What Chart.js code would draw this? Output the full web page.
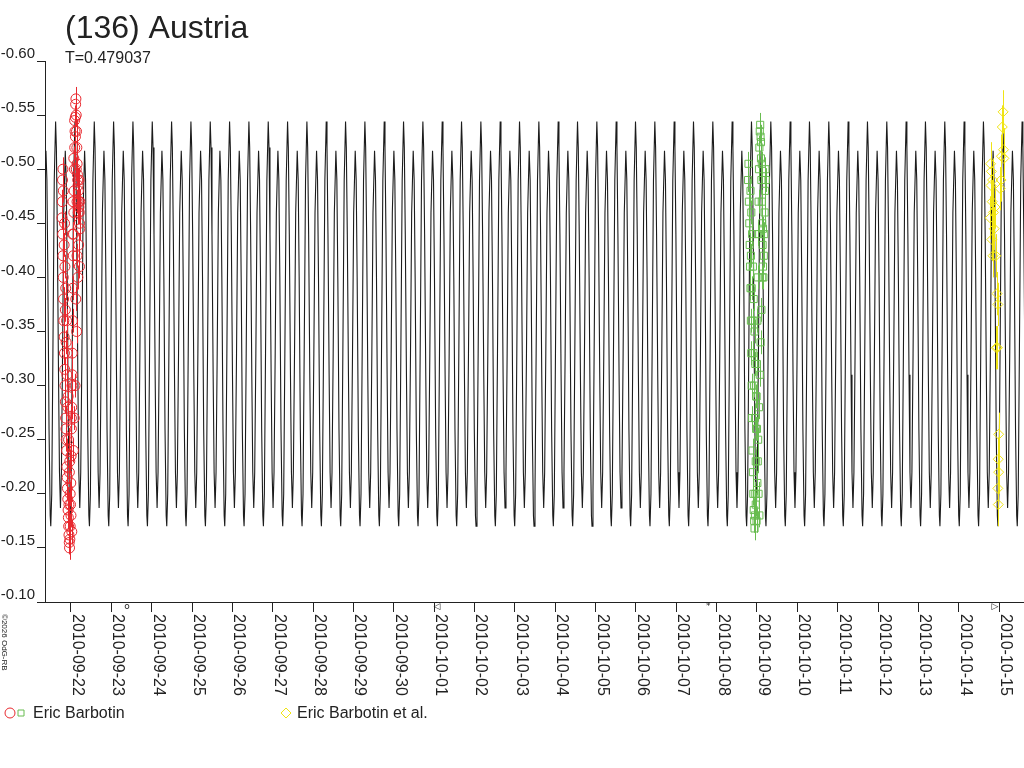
<!DOCTYPE html>
<html>
<head>
<meta charset="utf-8">
<script src="https://cdn.jsdelivr.net/npm/chart.js@4.4.1/dist/chart.umd.min.js"></script>
<style>
html, body { margin: 0; padding: 0; background: #fff; }
#wrap { width: 1024px; height: 768px; position: relative; }
</style>
</head>
<body>
<div id="wrap"><canvas id="lc"></canvas></div>
<script>
// x axis is in days since 2010-09-22 00:00
const titleText = '(136) Austria';
const periodText = 'T=0.479037';
const period = 0.479037;
const epoch = 0.577;          // primary maximum of the fitted curve
const xMin = -0.644, xMax = 23.618;

const dateLabels = ['2010-09-22','2010-09-23','2010-09-24','2010-09-25','2010-09-26','2010-09-27',
  '2010-09-28','2010-09-29','2010-09-30','2010-10-01','2010-10-02','2010-10-03','2010-10-04',
  '2010-10-05','2010-10-06','2010-10-07','2010-10-08','2010-10-09','2010-10-10','2010-10-11',
  '2010-10-12','2010-10-13','2010-10-14','2010-10-15'];

// one period of the fitted light curve (phase, mag)
const shapePhase = [0, 0.04, 0.09, 0.15, 0.20, 0.25, 0.30, 0.36, 0.42, 0.50, 0.55, 0.60, 0.66, 0.72, 0.75, 0.80, 0.86, 0.93];
const shapeMag = [-0.544, -0.52, -0.44, -0.31, -0.22, -0.187, -0.22, -0.33, -0.46, -0.517, -0.49, -0.40, -0.26, -0.18, -0.170, -0.20, -0.33, -0.49];

// Eric Barbotin, 2010-09-22
const redT = [-0.222,-0.215,-0.208,-0.200,-0.192,-0.185,-0.178,-0.170,-0.162,-0.155,
  -0.148,-0.140,-0.132,-0.125,-0.118,-0.110,-0.102,-0.095,-0.088,-0.080,
  -0.072,-0.065,-0.058,-0.050,-0.043,-0.036,-0.028,-0.020,-0.012,-0.005,
  0.003,0.010,0.018,0.025,0.032,0.040,0.047,0.055,0.062,0.070,
  0.077,0.085,0.092,0.100,0.107,0.115,0.122,0.130,0.137,0.145,
  0.152,0.160,0.167,0.175,0.182,0.190,0.197,0.205,0.212,0.220,
  0.150,0.170,0.190,0.210,-0.200,-0.210,-0.190,0.120,0.140,0.100,
  0.080,0.060,-0.140,-0.120,-0.100,-0.080,-0.060,-0.040,-0.020,0.000,
  0.020,-0.050,0.040,0.050,0.070,0.090,0.110,0.130,0.150,0.180,
  0.200,0.220,-0.170,-0.160,-0.150,-0.130,-0.110,-0.090,-0.070,-0.030,
  0.010,0.030];
const redMag = [-0.455,-0.47,-0.44,-0.42,-0.40,-0.38,-0.36,-0.345,-0.33,-0.315,
  -0.30,-0.285,-0.27,-0.26,-0.25,-0.24,-0.225,-0.215,-0.205,-0.195,
  -0.185,-0.178,-0.17,-0.162,-0.155,-0.150,-0.158,-0.17,-0.19,-0.21,
  -0.235,-0.26,-0.28,-0.30,-0.33,-0.36,-0.39,-0.42,-0.44,-0.46,
  -0.48,-0.50,-0.52,-0.535,-0.548,-0.56,-0.565,-0.55,-0.535,-0.52,
  -0.505,-0.495,-0.49,-0.485,-0.48,-0.47,-0.465,-0.46,-0.45,-0.445,
  -0.42,-0.40,-0.43,-0.41,-0.50,-0.49,-0.48,-0.38,-0.35,-0.30,
  -0.27,-0.24,-0.37,-0.34,-0.31,-0.28,-0.25,-0.22,-0.20,-0.18,
  -0.165,-0.19,-0.44,-0.47,-0.51,-0.545,-0.53,-0.50,-0.47,-0.46,
  -0.49,-0.47,-0.43,-0.45,-0.41,-0.39,-0.36,-0.33,-0.29,-0.23,
  -0.27,-0.31];
const redErr = 0.011;

// Eric Barbotin, 2010-10-09
const greenT = [16.78,16.79,16.80,16.81,16.82,16.83,16.84,16.85,16.86,16.87,
  16.88,16.89,16.90,16.91,16.92,16.93,16.94,16.95,16.96,16.97,
  16.98,16.99,17.00,17.01,17.02,17.03,17.04,17.05,17.06,17.07,
  17.08,17.09,17.10,17.11,17.12,17.13,17.14,17.15,17.16,17.17,
  17.18,17.19,17.20,17.21,17.22,
  16.84,16.86,16.88,16.90,16.92,16.94,16.96,16.98,17.00,17.02,
  17.04,17.06,16.97,17.01,17.03,17.05,17.07,17.09,17.11,17.13,
  17.15,16.99,16.95,16.93,16.91,16.89,16.87,16.85,17.10,17.12];
const greenMag = [-0.49,-0.505,-0.47,-0.45,-0.43,-0.41,-0.39,-0.36,-0.33,-0.30,
  -0.27,-0.24,-0.22,-0.20,-0.185,-0.175,-0.168,-0.18,-0.20,-0.23,
  -0.26,-0.29,-0.32,-0.36,-0.40,-0.44,-0.47,-0.50,-0.52,-0.535,
  -0.541,-0.53,-0.51,-0.49,-0.47,-0.45,-0.43,-0.41,-0.40,-0.42,
  -0.44,-0.46,-0.48,-0.50,-0.49,
  -0.48,-0.46,-0.44,-0.41,-0.38,-0.35,-0.32,-0.29,-0.26,-0.23,
  -0.20,-0.18,-0.19,-0.21,-0.25,-0.28,-0.31,-0.34,-0.37,-0.40,
  -0.445,-0.175,-0.27,-0.30,-0.33,-0.36,-0.39,-0.42,-0.525,-0.505];
const greenErr = 0.011;

// Eric Barbotin et al., 2010-10-15
const yellowT = [23.10,23.08,23.11,23.12,23.06,22.79,22.81,22.84,22.80,23.05,
  23.03,22.83,22.86,22.78,22.88,22.90,22.82,22.85,22.92,22.95,
  22.97,22.93,22.96,22.99,22.98,22.99,22.97,22.98];
const yellowMag = [-0.553,-0.539,-0.518,-0.510,-0.512,-0.505,-0.498,-0.49,-0.485,-0.49,
  -0.482,-0.47,-0.46,-0.455,-0.445,-0.465,-0.435,-0.42,-0.42,-0.385,
  -0.375,-0.335,-0.335,-0.255,-0.232,-0.22,-0.205,-0.19];
const yellowErr = 0.02;

// moon phase marks under the axis
const moonT = [1.39, 9.07, 15.79, 22.9];
const moonSym = ['o', '◁', '*', '▷'];

const legendItems = [
  { label: 'Eric Barbotin', x: 33, marks: [['circle', 10, 'rgb(232,40,46)'], ['square', 21, 'rgb(104,188,80)']] },
  { label: 'Eric Barbotin et al.', x: 297, marks: [['diamond', 286, 'rgb(240,228,20)']] }
];

const FONT = "'Liberation Sans', Arial, sans-serif";
const INK = '#222';

// repeat the fitted period over the plotted span
const curve = [];
for (let k = -3; k < 52; k++) {
  shapePhase.forEach((p, i) => {
    const x = epoch + (k + p) * period;
    if (x > xMin - 0.5 && x < xMax + 0.5) curve.push({ x: x, y: shapeMag[i] });
  });
}

const pts = (t, m) => t.map((v, i) => ({ x: v, y: m[i] }));

// error bars go on top of the fitted curve, under the markers
const errorBars = {
  id: 'errorBars',
  afterDatasetDraw(chart, args) {
    if (args.index !== 3) return;
    const ctx = chart.ctx, ys = chart.scales.y, area = chart.chartArea;
    ctx.save();
    ctx.beginPath();
    ctx.rect(area.left, area.top, area.right - area.left, area.bottom - area.top);
    ctx.clip();
    chart.data.datasets.forEach((ds, i) => {
      if (!ds.err) return;
      const meta = chart.getDatasetMeta(i);
      ctx.strokeStyle = ds.borderColor;
      ctx.lineWidth = 1;
      meta.data.forEach((el, j) => {
        const v = ds.data[j].y;
        const x = Math.round(el.x) + 0.5;
        ctx.beginPath();
        ctx.moveTo(x, ys.getPixelForValue(v - ds.err));
        ctx.lineTo(x, ys.getPixelForValue(v + ds.err));
        ctx.stroke();
      });
    });
    ctx.restore();
  }
};

const decorations = {
  id: 'decorations',
  afterDraw(chart) {
    const ctx = chart.ctx, xs = chart.scales.x, area = chart.chartArea;
    ctx.save();
    ctx.fillStyle = INK;
    ctx.textAlign = 'left';
    ctx.textBaseline = 'alphabetic';

    // x axis line runs a little past the y axis, like the tick marks
    ctx.strokeStyle = INK;
    ctx.lineWidth = 1;
    ctx.beginPath();
    ctx.moveTo(area.left - 8, Math.round(area.bottom) + 0.5);
    ctx.lineTo(area.left, Math.round(area.bottom) + 0.5);
    ctx.stroke();

    ctx.font = '32px ' + FONT;
    ctx.fillText(titleText, 65, 38);
    ctx.font = '16px ' + FONT;
    ctx.fillText(periodText, 65, 63);

    // rotated date labels, reading downwards
    ctx.font = '16px ' + FONT;
    dateLabels.forEach((lab, i) => {
      const x = xs.getPixelForValue(i);
      ctx.save();
      ctx.translate(x + 2, 614);
      ctx.rotate(Math.PI / 2);
      ctx.fillText(lab, 0, 0);
      ctx.restore();
    });

    // moon phase marks
    ctx.font = '9px "DejaVu Sans", sans-serif';
    ctx.textAlign = 'center';
    ctx.textBaseline = 'middle';
    moonT.forEach((t, i) => {
      ctx.fillText(moonSym[i], xs.getPixelForValue(t), 607);
    });

    // copyright
    ctx.textAlign = 'left';
    ctx.textBaseline = 'alphabetic';
    ctx.font = '8px ' + FONT;
    ctx.save();
    ctx.translate(2, 614);
    ctx.rotate(Math.PI / 2);
    ctx.fillText('©2026 OdG-RB', 0, 0);
    ctx.restore();

    // legend
    legendItems.forEach(item => {
      item.marks.forEach(m => {
        const [kind, cx, col] = m;
        const cy = 713;
        ctx.strokeStyle = col;
        ctx.lineWidth = 1;
        ctx.beginPath();
        if (kind === 'circle') ctx.arc(cx, cy, 5, 0, Math.PI * 2);
        else if (kind === 'square') ctx.rect(cx - 3, cy - 3, 6, 6);
        else { ctx.moveTo(cx, cy - 5); ctx.lineTo(cx + 5, cy); ctx.lineTo(cx, cy + 5); ctx.lineTo(cx - 5, cy); ctx.closePath(); }
        ctx.stroke();
      });
      ctx.fillStyle = INK;
      ctx.font = '16px ' + FONT;
      ctx.fillText(item.label, item.x, 718);
    });
    ctx.restore();
  }
};

new Chart(document.getElementById('lc'), {
  type: 'scatter',
  data: {
    datasets: [
      {
        label: 'Eric Barbotin',
        data: pts(redT, redMag),
        err: redErr,
        borderColor: 'rgb(232,40,46)',
        backgroundColor: 'rgba(0,0,0,0)',
        pointStyle: 'circle',
        pointRadius: 5,
        borderWidth: 1
      },
      {
        label: 'Eric Barbotin',
        data: pts(greenT, greenMag),
        err: greenErr,
        borderColor: 'rgb(104,188,80)',
        backgroundColor: 'rgba(0,0,0,0)',
        pointStyle: 'rect',
        pointRadius: 5,
        borderWidth: 1
      },
      {
        label: 'Eric Barbotin et al.',
        data: pts(yellowT, yellowMag),
        err: yellowErr,
        borderColor: 'rgb(240,228,20)',
        backgroundColor: 'rgba(0,0,0,0)',
        pointStyle: 'rectRot',
        pointRadius: 5,
        borderWidth: 1
      },
      {
        label: 'fit',
        data: curve,
        showLine: true,
        borderColor: '#1c1c1c',
        borderWidth: 1.1,
        pointRadius: 0,
        tension: 0
      }
    ]
  },
  options: {
    responsive: true,
    maintainAspectRatio: false,
    animation: false,
    layout: { autoPadding: false, padding: { top: 61, left: 0, right: 0, bottom: 0 } },
    plugins: { legend: { display: false }, tooltip: { enabled: false } },
    scales: {
      x: {
        type: 'linear',
        min: xMin,
        max: xMax,
        afterBuildTicks: s => { s.ticks = dateLabels.map((d, i) => ({ value: i })); },
        afterFit: s => { s.height = 166; },
        ticks: { display: false },
        grid: { drawOnChartArea: false, drawTicks: true, tickLength: 10, color: INK },
        border: { color: INK, width: 1 }
      },
      y: {
        type: 'linear',
        reverse: true,
        min: -0.6,
        max: -0.1,
        afterFit: s => { s.width = 45; },
        ticks: {
          stepSize: 0.05,
          callback: v => v.toFixed(2),
          font: { family: FONT, size: 15 },
          color: INK,
          padding: 2,
          labelOffset: -7
        },
        grid: { drawOnChartArea: false, drawTicks: true, tickLength: 8, color: INK },
        border: { color: INK, width: 1 }
      }
    }
  },
  plugins: [errorBars, decorations]
});
</script>
</body>
</html>
